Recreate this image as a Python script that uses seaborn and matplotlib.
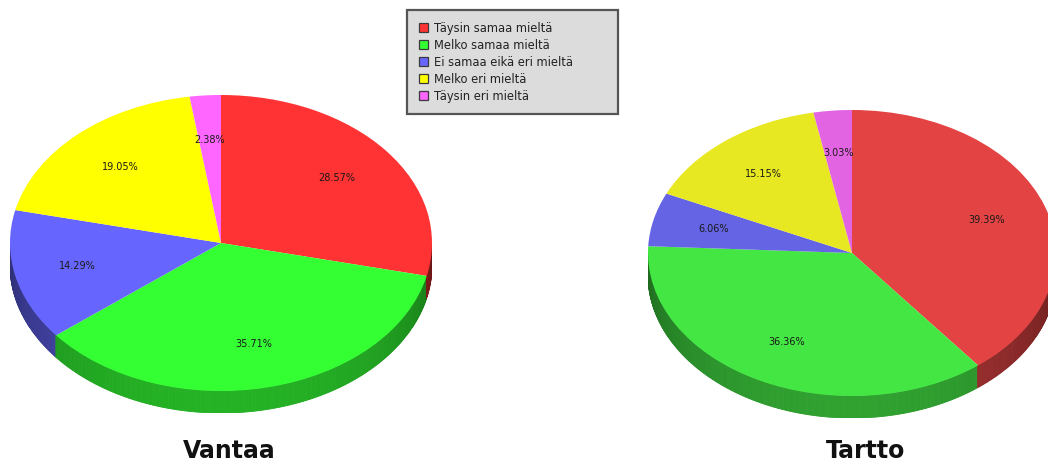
import numpy as np
import matplotlib
matplotlib.use("Agg")
import matplotlib.pyplot as plt
import matplotlib.colors as mcolors
from matplotlib.patches import Patch
from matplotlib.collections import PolyCollection
import seaborn as sns

# --- data -------------------------------------------------------------
categories = ["Täysin samaa mieltä", "Melko samaa mieltä",
              "Ei samaa eikä eri mieltä", "Melko eri mieltä",
              "Täysin eri mieltä"]
cities = ["Vantaa", "Tartto"]
vantaa_pct = [28.57, 35.71, 14.29, 19.05, 2.38]
tartto_pct = [39.39, 36.36, 6.06, 15.15, 3.03]

vantaa_colors = ["#FF3333", "#33FF33", "#6666FF", "#FFFF00", "#FF66FF"]
tartto_colors = ["#E34343", "#43E643", "#6464E4", "#E8E822", "#E264E2"]

sns.set_style("white")
plt.rcParams["font.family"] = ["DejaVu Sans"]

W, H = 1048, 465
fig = plt.figure(figsize=(W / 100, H / 100), dpi=100)


def fig_rect(left, top, width, height):
    return [left / W, 1 - (top + height) / H, width / W, height / H]


def draw_3d_pie(ax, values, colors, dz):
    vals = np.asarray(values, dtype=float)
    labels = iter(f"{v:.2f}%" for v in vals)
    ax.pie(vals, colors=colors, startangle=90, counterclock=False,
           radius=1.0, autopct=lambda p: next(labels), pctdistance=0.7,
           wedgeprops=dict(linewidth=0, zorder=3),
           textprops=dict(fontsize=7, color="#1a1a1a", zorder=4))

    # shaded rim on the front half of the disc
    bounds = np.concatenate([[0], np.cumsum(vals)]) / vals.sum()
    theta = np.linspace(np.pi, 2 * np.pi, 361)
    quads, fills = [], []
    for t0, t1 in zip(theta[:-1], theta[1:]):
        tm = 0.5 * (t0 + t1)
        frac = ((np.pi / 2 - tm) % (2 * np.pi)) / (2 * np.pi)
        idx = min(np.searchsorted(bounds, frac) - 1, len(vals) - 1)
        quads.append([(np.cos(t0), np.sin(t0)), (np.cos(t1), np.sin(t1)),
                      (np.cos(t1), np.sin(t1) - dz), (np.cos(t0), np.sin(t0) - dz)])
        shade = 0.40 + 0.30 * (-np.sin(tm)) ** 0.7
        fills.append(np.array(mcolors.to_rgb(colors[idx])) * shade)
    ax.add_collection(PolyCollection(quads, facecolors=fills,
                                     edgecolors=fills, linewidths=0.6, zorder=2))
    ax.set_aspect("auto")
    ax.set_xlim(-1, 1)
    ax.set_ylim(-1 - dz, 1)
    ax.axis("off")


# left disc: centre (221, 243), radii 211 x 148, rim 22 px
ax1 = fig.add_axes(fig_rect(10, 95, 422, 296 + 22))
draw_3d_pie(ax1, vantaa_pct, vantaa_colors, 22 / 148)

# right disc: centre (852, 253), radii 204 x 143, rim 22 px
ax2 = fig.add_axes(fig_rect(648, 110, 408, 286 + 22))
draw_3d_pie(ax2, tartto_pct, tartto_colors, 22 / 143)

fig.text(229 / W, 1 - 451 / H, cities[0], ha="center", va="center",
         fontsize=17, fontweight="bold", color="#111111")
fig.text(866 / W, 1 - 451 / H, cities[1], ha="center", va="center",
         fontsize=17, fontweight="bold", color="#111111")

handles = [Patch(facecolor=c, edgecolor="#3a3a3a", linewidth=0.9)
           for c in vantaa_colors]
leg = fig.legend(handles, categories, loc="upper left", mode="expand",
                 bbox_to_anchor=(407 / W, 1 - 112 / H, 211 / W, 102 / H),
                 fontsize=8.3, frameon=True, fancybox=False, framealpha=1,
                 facecolor="#DCDCDC", edgecolor="#555555",
                 handlelength=0.85, handleheight=0.85, handletextpad=0.5,
                 labelspacing=0.35, borderpad=1.0, borderaxespad=0)
leg.get_frame().set_linewidth(1.6)
for t in leg.get_texts():
    t.set_color("#222222")

fig.savefig("out.png", dpi=100)
